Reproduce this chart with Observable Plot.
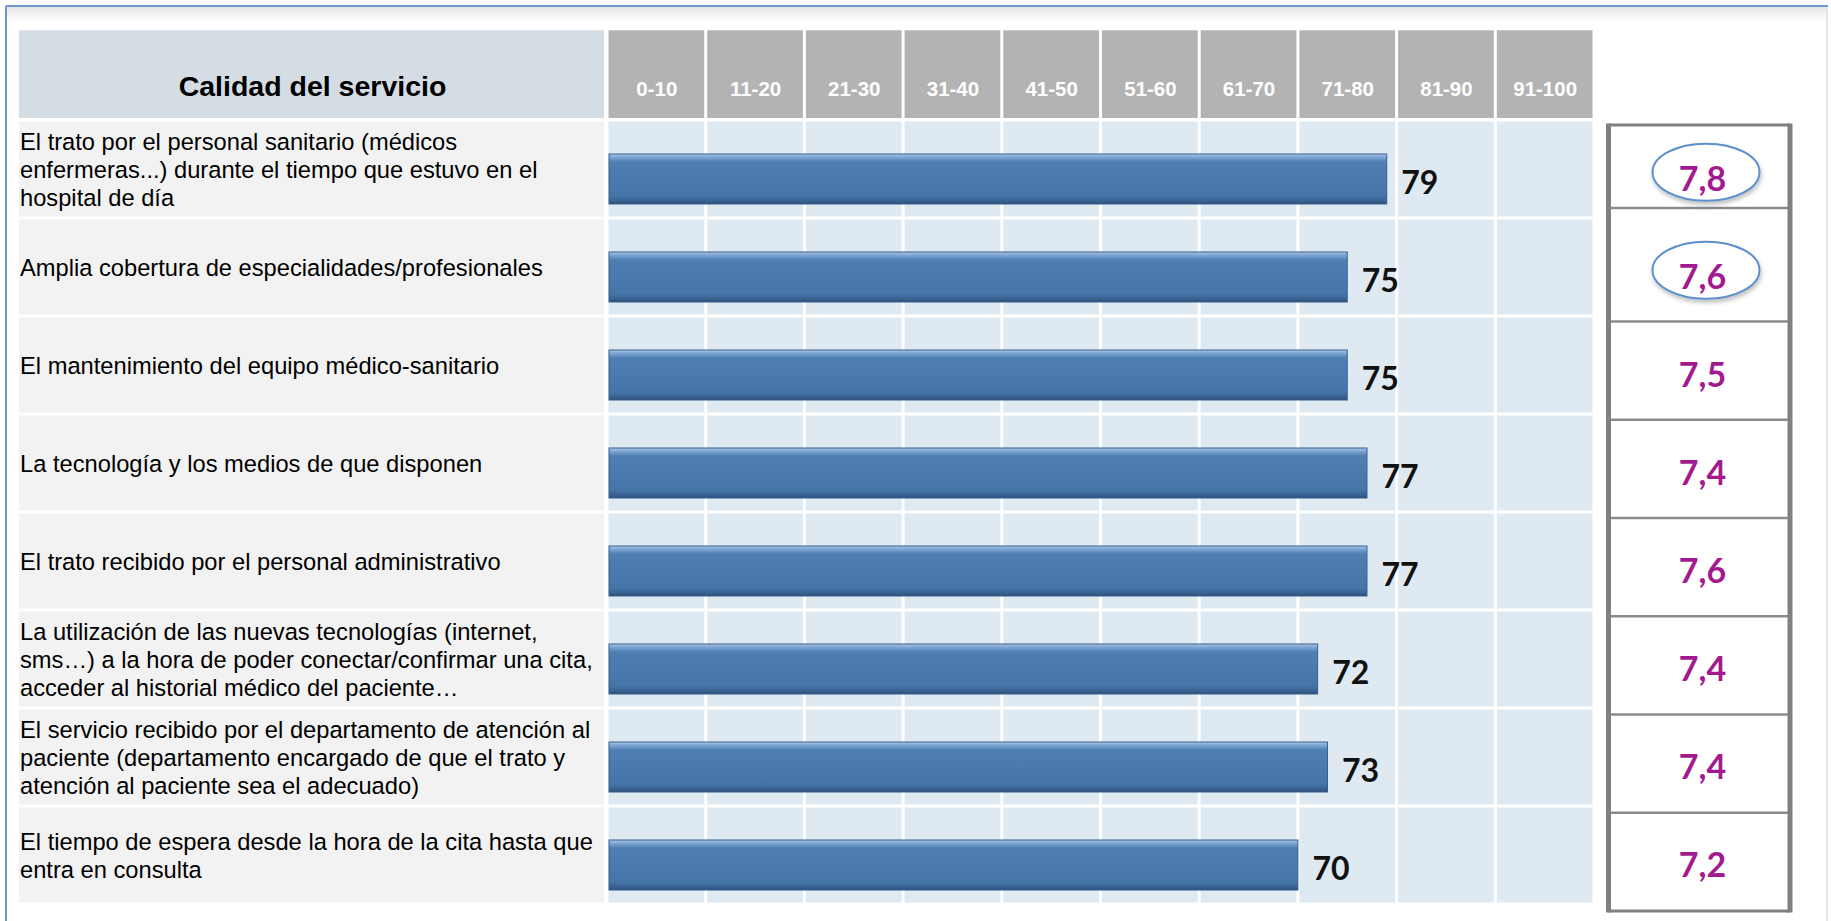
<!DOCTYPE html>
<html><head><meta charset="utf-8">
<script src="https://cdn.jsdelivr.net/npm/d3@7"></script>
<script src="https://cdn.jsdelivr.net/npm/@observablehq/plot@0.6"></script>
<style>body{margin:0;background:#fff;overflow:hidden}</style>
</head><body><div id="chart"></div>
<script>
// ---------- data ----------
const title = "Calidad del servicio";
const categories = [
  "El trato por el personal sanitario (médicos\nenfermeras...) durante el tiempo que estuvo en el\nhospital de día",
  "Amplia cobertura de especialidades/profesionales",
  "El mantenimiento del equipo médico-sanitario",
  "La tecnología y los medios de que disponen",
  "El trato recibido por el personal administrativo",
  "La utilización de las nuevas tecnologías (internet,\nsms…) a la hora de poder conectar/confirmar una cita,\nacceder al historial médico del paciente…",
  "El servicio recibido por el departamento de atención al\npaciente (departamento encargado de que el trato y\natención al paciente sea el adecuado)",
  "El tiempo de espera desde la hora de la cita hasta que\nentra en consulta"
];
const values = [79, 75, 75, 77, 77, 72, 73, 70];
const scores = ["7,8", "7,6", "7,5", "7,4", "7,6", "7,4", "7,4", "7,2"];
const highlighted = [true, true, false, false, false, false, false, false];
const rangeLabels = ["0-10", "11-20", "21-30", "31-40", "41-50", "51-60", "61-70", "71-80", "81-90", "91-100"];

// ---------- layout ----------
const W = 1831, H = 921;
const X0 = 607, X1 = 1594;          // pixel span of 0..100
const Y0 = 20.7, Y1 = 905;          // header band + 8 rows
const px = p => (p - X0) / (X1 - X0) * 100;
const bw = (Y1 - Y0) / (categories.length + 1);

const rows = categories.map((c, i) => ({cat: c, value: values[i], score: scores[i], hl: highlighted[i]}));
const ranges = rangeLabels.map((l, i) => ({label: l, start: i * 10, end: i * 10 + 10}));
const cells = rows.flatMap(r => ranges.map(g => ({cat: r.cat, x1: g.start, x2: g.end})));

const labelFont = "'Liberation Sans', Arial, sans-serif";
const numFont = "Lato, 'Open Sans', sans-serif";

const defs = () => {
  const d = d3.create("svg:defs");
  const g = d.append("linearGradient").attr("id", "barGrad").attr("x1", 0).attr("y1", 0).attr("x2", 0).attr("y2", 1);
  [[0, "#a9c6ea"], [0.07, "#7aa3d2"], [0.16, "#4f7fb2"], [0.82, "#4676a9"], [0.92, "#3b6797"], [1, "#2c4f7b"]]
    .forEach(([o, c]) => g.append("stop").attr("offset", o).attr("stop-color", c));
  const f = d.append("filter").attr("id", "shadow").attr("x", "-5%").attr("y", "-30%").attr("width", "115%").attr("height", "180%");
  f.append("feDropShadow").attr("dx", 2).attr("dy", 3).attr("stdDeviation", 2.2).attr("flood-color", "#000").attr("flood-opacity", 0.35);
  const f2 = d.append("filter").attr("id", "eshadow").attr("x", "-20%").attr("y", "-30%").attr("width", "140%").attr("height", "170%");
  f2.append("feDropShadow").attr("dx", 1).attr("dy", 3).attr("stdDeviation", 2).attr("flood-color", "#000").attr("flood-opacity", 0.25);
  const t = d.append("linearGradient").attr("id", "topShade").attr("x1", 0).attr("y1", 0).attr("x2", 0).attr("y2", 1);
  t.append("stop").attr("offset", 0).attr("stop-color", "#e6e6e6");
  t.append("stop").attr("offset", 1).attr("stop-color", "#ffffff");
  return d.node();
};

const outerFrame = () => {
  const g = d3.create("svg:g");
  g.append("rect").attr("x", 7).attr("y", 7).attr("width", W - 12).attr("height", 14).attr("fill", "url(#topShade)");
  g.append("line").attr("x1", 1827).attr("x2", 1827).attr("y1", 6).attr("y2", H).attr("stroke", "#e4e4e4").attr("stroke-width", 2);
  g.append("line").attr("x1", 6).attr("x2", 1828).attr("y1", 6).attr("y2", 6).attr("stroke", "#6e98cc").attr("stroke-width", 2);
  g.append("line").attr("x1", 6).attr("x2", 6).attr("y1", 6).attr("y2", H).attr("stroke", "#6e98cc").attr("stroke-width", 2);
  return g.node();
};

const scoreBox = () => {
  const g = d3.create("svg:g");
  const xl = 1608.5, xr = 1790, top = Y0 + bw + 6, bot = Y1 + 6;
  g.append("rect").attr("x", xl).attr("y", top).attr("width", xr - xl).attr("height", bot - top).attr("fill", "#fff");
  for (let i = 1; i < categories.length; i++) {
    const y = i === 1 ? top + 83 : top + i * bw;
    g.append("line").attr("x1", xl).attr("x2", xr).attr("y1", y).attr("y2", y).attr("stroke", "#8a8a8a").attr("stroke-width", 2.5);
  }
  g.append("line").attr("x1", xl).attr("x2", xr).attr("y1", top).attr("y2", top).attr("stroke", "#808080").attr("stroke-width", 3);
  g.append("line").attr("x1", xl).attr("x2", xr).attr("y1", bot).attr("y2", bot).attr("stroke", "#808080").attr("stroke-width", 3);
  g.append("line").attr("x1", xl).attr("x2", xl).attr("y1", top - 1.5).attr("y2", bot + 1.5).attr("stroke", "#808080").attr("stroke-width", 5);
  g.append("line").attr("x1", xr).attr("x2", xr).attr("y1", top - 1.5).attr("y2", bot + 1.5).attr("stroke", "#808080").attr("stroke-width", 5);
  return g.node();
};

const ellipses = (index, scales) => {
  const g = d3.create("svg:g").attr("filter", "url(#eshadow)");
  rows.filter(r => r.hl).forEach(r => {
    const cy = scales.y(r.cat) + bw / 2 + 3;
    g.append("ellipse").attr("cx", scales.x(px(1706))).attr("cy", cy).attr("rx", 53.5).attr("ry", 28.5)
      .attr("fill", "#fff").attr("stroke", "#5b8fcb").attr("stroke-width", 2);
  });
  return g.node();
};

const chart = Plot.plot({
  width: W, height: H,
  marginTop: 0, marginRight: 0, marginBottom: 0, marginLeft: 0,
  style: {fontFamily: labelFont, background: "#fff", overflow: "visible"},
  x: {domain: [0, 100], range: [X0, X1], axis: null},
  y: {type: "band", domain: [title, ...categories], range: [Y0, Y1], padding: 0, axis: null},
  marks: [
    defs,
    outerFrame,
    // header row
    Plot.barX([title], {x1: px(19), x2: px(604), y: d => d, fill: "#d5dde4", insetTop: 8.3, insetBottom: 2}),
    Plot.text([title], {x: px(312), y: d => d, dy: 15, text: d => d, fontSize: 28.5, fontWeight: "bold", fill: "#000"}),
    Plot.barX(ranges, {x1: "start", x2: "end", y: () => title, fill: "#b3b3b3", insetTop: 8.3, insetBottom: 2, insetLeft: 1.5, insetRight: 1.5}),
    Plot.text(ranges, {x: d => (d.start + d.end) / 2, y: () => title, dy: 18, text: "label", fill: "#fff", fontSize: 20.5, fontWeight: "bold"}),
    // label cells and grid
    Plot.barX(rows, {x1: px(19), x2: px(604), y: "cat", fill: "#f2f2f2", insetTop: 1.5, insetBottom: 1.5}),
    Plot.barX(cells, {x1: "x1", x2: "x2", y: "cat", fill: "#dfe9f1", insetLeft: 1.5, insetRight: 1.5, insetTop: 1.5, insetBottom: 1.5}),
    Plot.text(rows, {x: px(19.5), y: "cat", text: "cat", textAnchor: "start", fontSize: 23.7, lineHeight: 1.18, fill: "#000"}),
    // bars and values
    Plot.barX(rows, {x1: 0, x2: "value", y: "cat", insetTop: 34, insetBottom: 14, insetLeft: 2, fill: "url(#barGrad)", stroke: "#36608e", strokeWidth: 1}),
    Plot.text(rows, {x: "value", y: "cat", dx: 14, dy: 14, text: d => String(d.value), textAnchor: "start", fontFamily: numFont, fontSize: 32, fontWeight: "bold", fill: "#111"}),
    // score box
    scoreBox,
    ellipses,
    Plot.text(rows, {x: px(1702), y: "cat", dy: 11, text: "score", fontFamily: numFont, fontSize: 34, fontWeight: "bold", fill: "#a3198f"})
  ]
});
document.getElementById("chart").appendChild(chart);
chart.querySelectorAll('rect[fill="url(#barGrad)"]').forEach(r => r.parentNode.setAttribute("filter", "url(#shadow)"));
</script>
</body></html>
